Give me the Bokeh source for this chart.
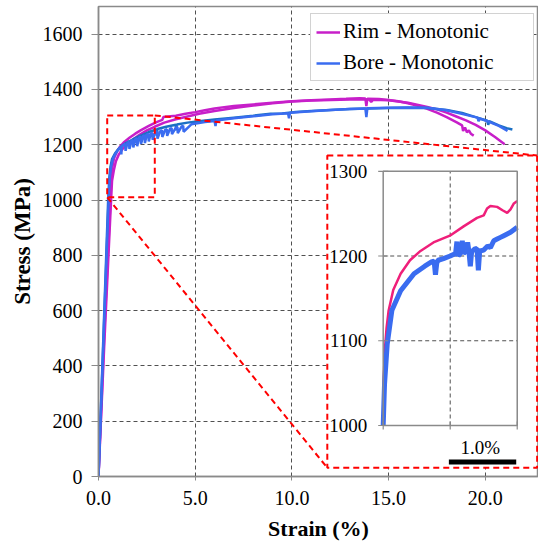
from bokeh.plotting import figure
from bokeh.models import Range1d, FixedTicker, PrintfTickFormatter, Legend, LegendItem
from bokeh.embed import file_html
from bokeh.resources import INLINE
from bokeh.core.properties import value

FONT = "Liberation Serif"

# ---------------- data (strain %, stress MPa) ----------------
X_TICKS = [0, 5, 10, 15, 20]
Y_TICKS = [0, 200, 400, 600, 800, 1000, 1200, 1400, 1600]

RIM_A_X = [0, 0.3, 0.62, 0.66, 0.72, 0.8, 0.95, 1.1, 1.3, 1.6, 1.9, 2.2, 2.6, 3.0, 3.3, 3.35,
           3.6, 4.0, 4.5, 5.0, 5.5, 6.0, 6.5, 7.0, 7.5, 8.0, 9.0, 10.0, 11.0, 12.0, 12.8, 13.5,
           13.8, 13.85, 13.9, 14.5, 15.0, 15.5, 16.0, 16.5, 17.0, 17.5, 18.0, 18.5, 18.8, 18.85,
           18.95, 19.05, 19.15, 19.25, 19.4]
RIM_A_Y = [0, 520, 1000, 1080, 1120, 1150, 1175, 1192, 1208, 1225, 1240, 1253, 1268, 1282, 1290, 1300,
           1302, 1305, 1312, 1318, 1325, 1331, 1336, 1340, 1343, 1346, 1352, 1357, 1361, 1364, 1366, 1368,
           1367, 1340, 1366, 1365, 1362, 1357, 1350, 1341, 1330, 1316, 1300, 1282, 1270, 1250,
           1262, 1245, 1252, 1240, 1233]

RIM_B_X = [0, 0.3, 0.65, 0.7, 0.8, 0.9, 1.05, 1.25, 1.5, 1.8, 2.1, 2.5, 2.9, 3.4, 4.0, 4.6, 5.2,
           6.0, 7.0, 8.0, 9.0, 10.0, 11.0, 12.0, 13.0, 14.0, 14.1, 14.2, 15.0, 16.0, 17.0, 17.5,
           18.0, 18.5, 19.0, 19.5, 20.0, 20.5, 21.0]
RIM_B_Y = [0, 480, 1000, 1070, 1110, 1140, 1165, 1185, 1203, 1220, 1235, 1252, 1265, 1280, 1292, 1302, 1312,
           1322, 1333, 1342, 1350, 1356, 1360, 1362, 1364, 1364, 1355, 1363, 1361, 1352, 1337, 1328,
           1316, 1302, 1288, 1272, 1252, 1228, 1202]

BORE_A_X = [0, 0.52, 0.58, 0.65, 0.75, 0.9, 1.05, 1.15, 1.18, 1.2, 1.3, 1.38, 1.4, 1.5, 1.58, 1.6,
            1.7, 1.78, 1.8, 1.9, 1.98, 2.0, 2.1, 2.18, 2.2, 2.3, 2.38, 2.4, 2.5, 2.58, 2.6, 2.7, 2.78,
            2.8, 2.95, 3.03, 3.05, 3.2, 3.28, 3.3, 3.45, 3.53, 3.55, 3.7, 3.78, 3.8, 4.0, 4.08, 4.1,
            4.3, 4.38, 4.4, 4.8, 5.5, 6.0, 6.05, 6.1, 7.0, 8.0, 9.0, 9.8, 9.85, 9.9, 11.0, 12.0,
            13.0, 13.8, 13.85, 13.9, 15.0, 16.0, 17.0, 18.0, 19.0, 19.6, 19.65, 19.7, 20.2, 20.7, 21.15]
BORE_A_Y = [0, 1000, 1080, 1120, 1150, 1170, 1185, 1192, 1165, 1194, 1200, 1203, 1178, 1207, 1210, 1185,
            1214, 1217, 1190, 1220, 1223, 1195, 1226, 1229, 1203, 1231, 1234, 1206, 1237, 1239, 1212, 1241, 1243,
            1218, 1246, 1248, 1222, 1250, 1252, 1228, 1254, 1256, 1232, 1258, 1260, 1238, 1262, 1264, 1242,
            1266, 1268, 1247, 1274, 1282, 1286, 1268, 1288, 1296, 1303, 1310, 1314, 1296, 1316, 1321, 1326,
            1329, 1331, 1300, 1332, 1334, 1335, 1334, 1325, 1308, 1298, 1285, 1295, 1283, 1268, 1250]

BORE_B_X = [0, 0.5, 0.56, 0.62, 0.7, 0.85, 1.0, 1.2, 1.4, 1.6, 1.62, 1.65, 1.9, 2.2, 2.22, 2.25, 2.6,
            3.0, 3.02, 3.05, 3.5, 4.0, 4.02, 4.05, 4.6, 5.2, 6.0, 7.0, 8.0, 8.9, 9.5, 10.2, 11.0, 12.0,
            13.0, 14.0, 15.0, 16.0, 17.0, 18.0, 18.8, 19.5, 20.1, 20.15, 20.2, 20.7, 21.1, 21.4]
BORE_B_Y = [0, 1000, 1080, 1120, 1148, 1168, 1182, 1195, 1205, 1213, 1190, 1214, 1224, 1234, 1210, 1235, 1246,
            1255, 1232, 1257, 1265, 1272, 1252, 1273, 1280, 1285, 1291, 1298, 1305, 1312, 1313, 1318, 1322, 1326,
            1329, 1331, 1333, 1334, 1333, 1326, 1315, 1300, 1287, 1272, 1285, 1270, 1260, 1255]

# zoomed inset data (strain %, stress MPa)
INSET_RIM_X = [0.55, 0.56, 0.574, 0.60, 0.63, 0.70, 0.81, 0.95, 1.107, 1.30, 1.545, 1.75, 1.95, 2.05,
               2.10, 2.15, 2.25, 2.33, 2.40, 2.45, 2.50, 2.55]
INSET_RIM_Y = [1040, 1060, 1088, 1115, 1135, 1160, 1179, 1195, 1206, 1216, 1224, 1235, 1245, 1248,
               1256, 1259, 1258, 1254, 1251, 1255, 1262, 1265]
INSET_BORE_X = [0.55, 0.57, 0.61, 0.68, 0.81, 1.01, 1.17, 1.27, 1.31, 1.33, 1.35, 1.37, 1.45, 1.55, 1.63,
                1.65, 1.67, 1.71, 1.73, 1.75, 1.79, 1.81, 1.83, 1.85, 1.87, 1.91, 1.95, 1.97, 1.99, 2.05,
                2.11, 2.15, 2.20, 2.25, 2.30, 2.35, 2.40, 2.45, 2.50, 2.55]
INSET_BORE_Y = [1000, 1049, 1096, 1136, 1159, 1179, 1188, 1193, 1194, 1178, 1192, 1195, 1197, 1200, 1203,
                1217, 1200, 1204, 1218, 1203, 1206, 1216, 1205, 1188, 1205, 1208, 1209, 1183, 1206, 1207,
                1212, 1210, 1218, 1220, 1222, 1224, 1226, 1228, 1231, 1234]
INSET_X_RANGE = (0.55, 2.55)
INSET_Y_RANGE = (1000, 1300)
INSET_X_TICKS = [0.55, 1.55, 2.55]
INSET_Y_TICKS = [1000, 1100, 1200, 1300]
INSET_Y_LABELS = ["1000", "1100", "1200", "1300"]
SCALE_BAR = (1.53, 2.535, 957)      # x0, x1, y of the 1.0 % strain bar
SCALE_TEXT = (2.0, 974, "1.0%")

# placement of the magnification marks in main-plot coordinates
ZOOM_BOX = (0.45, 2.91, 1010, 1306)        # x0, x1, y0, y1
INSET_BOX = (11.83, 22.68, 31.5, 1161)     # dashed outline of the inset
INSET_FRAME = (14.72, 21.65, 184.5, 1104)  # inset axes area

MAGENTA = "#c71fc9"
BLUE = "#3a6cf0"
STEEL = "#1b70c4"
PINK = "#ef1f7a"
GRID = "#505050"
FRAME = "#8a8a8a"

# ---------------- main figure ----------------
p = figure(width=538, height=546, output_backend="svg", toolbar_location=None,
           x_range=Range1d(0, 22.75), y_range=Range1d(0, 1700),
           min_border_left=98, min_border_right=0, min_border_top=6, min_border_bottom=70,
           background_fill_color="white", border_fill_color="white")
p.outline_line_color = FRAME
p.outline_line_width = 1.5

for ax in (p.xaxis[0], p.yaxis[0]):
    ax.axis_line_color = FRAME
    ax.axis_line_width = 1.5
    ax.major_tick_line_color = FRAME
    ax.minor_tick_line_color = None
    ax.major_tick_in = 0
    ax.major_label_text_font = FONT
    ax.major_label_text_font_size = "20px"
    ax.major_label_text_color = "black"
    ax.axis_label_text_font = FONT
    ax.axis_label_text_font_style = "bold"
    ax.axis_label_text_color = "black"

p.xaxis.ticker = FixedTicker(ticks=X_TICKS)
p.xaxis.formatter = PrintfTickFormatter(format="%.1f")
p.xaxis.major_tick_out = 4
p.xaxis.major_label_standoff = 10
p.xaxis.axis_label = "Strain (%)"
p.xaxis.axis_label_text_font_size = "22px"
p.xaxis.axis_label_standoff = 8

p.yaxis.ticker = FixedTicker(ticks=Y_TICKS)
p.yaxis.major_tick_out = 7
p.yaxis.major_label_standoff = 9
p.yaxis.axis_label = "Stress (MPa)"
p.yaxis.axis_label_text_font_size = "23px"
p.yaxis.axis_label_standoff = 5

for g in (p.xgrid[0], p.ygrid[0]):
    g.grid_line_color = GRID
    g.grid_line_dash = "4 3"
    g.grid_line_width = 1

rA = p.line(RIM_A_X, RIM_A_Y, line_color=MAGENTA, line_width=2.5)
rB = p.line(RIM_B_X, RIM_B_Y, line_color=MAGENTA, line_width=2.5)
bB = p.line(BORE_B_X, BORE_B_Y, line_color=STEEL, line_width=2.5)
bA = p.line(BORE_A_X, BORE_A_Y, line_color=BLUE, line_width=2.5)

# white inset panel with red dashed outline, zoom box and connectors
p.quad(left=[INSET_BOX[0]], right=[INSET_BOX[1]], bottom=[INSET_BOX[2]], top=[INSET_BOX[3]],
       fill_color="white", line_color="red", line_dash="6 4", line_width=2)
p.quad(left=[ZOOM_BOX[0]], right=[ZOOM_BOX[1]], bottom=[ZOOM_BOX[2]], top=[ZOOM_BOX[3]],
       fill_alpha=0, line_color="red", line_dash="6 4", line_width=2)
p.segment(x0=[ZOOM_BOX[1], ZOOM_BOX[0]], y0=[ZOOM_BOX[3], ZOOM_BOX[2]],
          x1=[INSET_BOX[1], INSET_BOX[0]], y1=[INSET_BOX[3], INSET_BOX[2]],
          line_color="red", line_dash="6 4", line_width=2)

# ---------------- inset (sub-coordinates) ----------------
sub = p.subplot(x_source=Range1d(*INSET_X_RANGE), y_source=Range1d(*INSET_Y_RANGE),
                x_target=Range1d(INSET_FRAME[0], INSET_FRAME[1]),
                y_target=Range1d(INSET_FRAME[2], INSET_FRAME[3]))

mid_x = (INSET_X_RANGE[0] + INSET_X_RANGE[1]) / 2
sub.segment(x0=[INSET_X_RANGE[0]] * 2, x1=[INSET_X_RANGE[1]] * 2, y0=INSET_Y_TICKS[1:3],
            y1=INSET_Y_TICKS[1:3], line_color=GRID, line_dash="4 3", line_width=1)
sub.segment(x0=[mid_x], x1=[mid_x], y0=[INSET_Y_RANGE[0]], y1=[INSET_Y_RANGE[1]],
            line_color=GRID, line_dash="4 3", line_width=1)

sub.line(INSET_RIM_X, INSET_RIM_Y, line_color=PINK, line_width=2.5)
sub.line(INSET_BORE_X, INSET_BORE_Y, line_color=BLUE, line_width=5)

sub.quad(left=[INSET_X_RANGE[0]], right=[INSET_X_RANGE[1]], bottom=[INSET_Y_RANGE[0]],
         top=[INSET_Y_RANGE[1]], fill_alpha=0, line_color=FRAME, line_width=1.5)
sub.scatter(x=[INSET_X_RANGE[0]] * 4, y=INSET_Y_TICKS, marker="dash", size=10,
            line_color=FRAME, line_width=1.2)
sub.scatter(x=INSET_X_TICKS, y=[INSET_Y_RANGE[0]] * 3, marker="dash", size=8, angle=1.5708,
            line_color=FRAME, line_width=1.2)
sub.text(x=[INSET_X_RANGE[0]] * 4, y=INSET_Y_TICKS, text=INSET_Y_LABELS, x_offset=-16,
         text_align="right", text_baseline="middle", text_font=value(FONT),
         text_font_size="19px", text_color="black")

sub.segment(x0=[SCALE_BAR[0]], x1=[SCALE_BAR[1]], y0=[SCALE_BAR[2]], y1=[SCALE_BAR[2]],
            line_color="black", line_width=5, line_cap="butt")
sub.text(x=[SCALE_TEXT[0]], y=[SCALE_TEXT[1]], text=[SCALE_TEXT[2]], text_align="center",
         text_baseline="middle", text_font=value(FONT), text_font_size="19px", text_color="black")

# ---------------- legend ----------------
legend = Legend(items=[LegendItem(label="Rim - Monotonic", renderers=[rA]),
                       LegendItem(label="Bore - Monotonic", renderers=[bA])],
                location=(212, 395))
legend.label_text_font = FONT
legend.label_text_font_size = "21px"
legend.label_text_color = "black"
legend.glyph_width = 24
legend.glyph_height = 20
legend.label_standoff = 3
legend.padding = 5
legend.spacing = 6
legend.label_width = 185
legend.margin = 0
legend.border_line_color = "#a6a6a6"
legend.border_line_width = 1
legend.background_fill_color = "white"
legend.background_fill_alpha = 1
p.add_layout(legend)

open("out.html", "w").write(file_html(p, INLINE))
